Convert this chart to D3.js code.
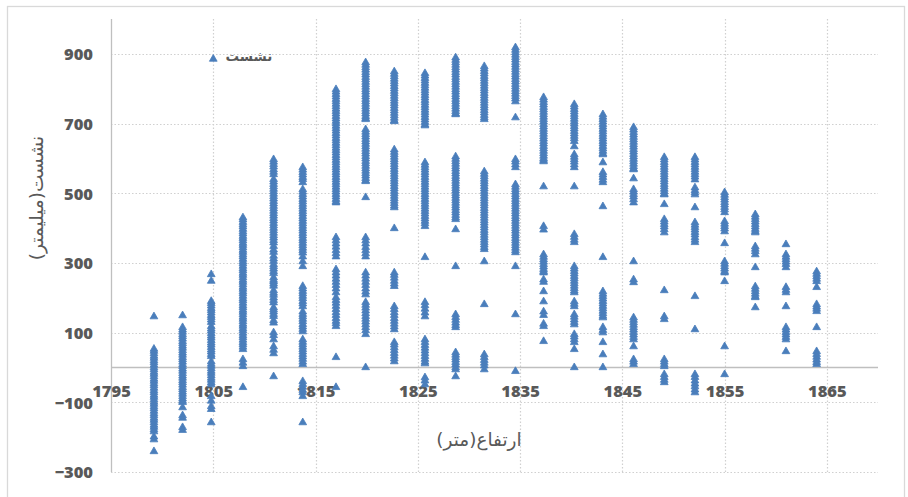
<!DOCTYPE html>
<html><head><meta charset="utf-8">
<script src="https://cdn.jsdelivr.net/npm/d3@7"></script>
<style>
html,body{margin:0;padding:0;background:#fff;}
svg{display:block;}
</style></head>
<body>
<svg id="chart" width="908" height="497"></svg>
<script>
// Elevation (x) of each measurement column
const elevation = [1799.2, 1802.0, 1804.8, 1807.9, 1810.9, 1813.75, 1817.0, 1819.9, 1822.7, 1825.7, 1828.7, 1831.5, 1834.55, 1837.3, 1840.3, 1843.1, 1846.1, 1849.1, 1852.1, 1855.0, 1858.0, 1861.0, 1864.0];
// Settlement values (mm) read for each column
const settlement = [
  [146, 53,47,40,33,27,20,14,7,0,-6,-13,-19,-26,-33,-39,-46,-52,-59,-66,-72,-79,-85,-92,-99,-105,-112,-118,-125,-132,-138,-145,-151,-158,-165,-171,-178,-184, -199,-207,-241],
  [149, 115,108,102,95,89,82,75,69,62,56,49,42,36,29,23,16,9,3,-4,-10,-17,-24,-30,-37,-43,-50,-57,-63,-70,-76,-83,-90,-96,-100, -115,-138,-145,-172,-180],
  [267,248, 190,184,177,170,164,157,150,144,137,130, 118,111,105,98,91,85,78,71,65,58,51,45,38,32, 17,10,4,-3,-10,-16,-23,-30,-36,-43,-49, -83,-96,-112,-120,-158],
  [430,424,417,410,404,397,390,384,377,371,364,357,351,344,337,331,324,318,311,304,298,291,284,278,271,265,258,251,245,238,231,225,218,212,205,198,192,185,178,172,165,159,152,145,139,132,125,119,112,106,99,92,86,79,72,66,59,52, 23,13,3, -57],
  [597,590,583,576,568,561,554, 540,533,526,519,512,505,498,491,484,477,470,463,456,449,442,435,428,421,414,407,400,393,386,379,372,365,358,348, 338,331,320,312,305,296,290,283,276,270,258,251,246,240,234,221,214,208,200,193,186,172,166,160,153,147,135,128, 100,92,80, 60,50,40, -26],
  [574,567,560,553,546,540,531, 511,504,497,490,483,476,469,462,455,448,441,434,427,420,413,406,399,392,385,378,371,364,357,350,343,336,329, 318,304,290, 233,226,219,212,205,198,190,183,175, 160,153,146,139,132,124,117,110,103, 80,73,66,59,52,45,38,31,24,16,9, -40,-48,-56,-65,-72,-83, -158],
  [798,791,784,777,770,763,756,749,742,735,728,721,714,707,700,693,686,679,672,665,658,651,644,637,630,623,616,609,602,595,588,581,574,567,560,553,546,539,532,525,518,511,504,497,490,483,476,473, 373,364,355,346,336,327,318, 281,272,263,254,245,236,226,215, 201,193,185,176,167,158,150,141,133,126,118, 29, -57],
  [875,868,861,854,847,840,833,826,819,812,805,798,791,784,777,770,763,756,749,742,735,728,721,715,712, 683,676,669,662,655,648,641,634,627,620,613,606,599,592,585,578,571,564,557,550,543,536,534, 488, 373,364,355,345,336,327,318, 272,263,254,245,236,226,217,209, 187,179,171,163,155,147,139,131,123,115,106,95, 0],
  [849,842,835,828,821,814,807,800,793,786,779,772,765,758,751,744,737,730,723,716,709,706, 625,618,611,604,597,590,583,576,569,562,555,548,541,534,527,520,513,506,499,492,485,478,471,464,459, 399, 272,265,257,248,240,233, 175,167,158,150,141,133,125,117,109, 72,65,57,49,41,33,25,17],
  [844,837,830,823,816,809,802,795,788,781,774,767,760,753,746,739,732,725,718,711,704,697,694, 588,581,574,567,560,553,546,539,532,525,518,511,504,497,490,483,476,469,462,455,448,441,434,427,420,413,405, 316, 187,178,168,157,146, 80,72,64,56,48,40,32,24,16,11, -29,-38,-49],
  [889,882,875,868,861,854,847,840,833,826,819,812,805,798,791,784,777,770,763,756,749,742,735,728,726, 605,598,591,584,577,570,563,556,549,542,535,528,521,514,507,500,493,486,479,472,465,458,451,444,437,430,425, 396, 290, 152,144,136,128,121,115, 43,36,29,22,15,8,0,-6, -26],
  [864,857,850,843,836,829,822,815,808,801,794,787,780,773,766,759,752,745,738,731,724,717,712, 562,555,548,541,534,527,520,513,506,499,492,485,478,471,464,457,450,443,436,429,422,415,408,401,394,387,380,373,366,359,352,345,339, 304, 181, 37,29,21,13,5,-6],
  [918,911,904,897,890,883,876,869,862,855,848,841,834,827,820,813,806,799,792,785,778,771,763, 717, 597,590,582,574, 525,518,511,504,497,490,483,476,469,462,455,448,441,434,427,420,413,406,399,392,385,378,371,364,357,350,343,336,330, 290, 152, -11],
  [775,768,761,754,747,740,733,726,719,712,705,698,691,684,677,670,663,656,649,642,635,628,621,614,607,600,595,591, 519, 405,395, 324,317,310,303,296,289,282,276,272, 252,245,218,189,160,150,125,118, 75],
  [755,748,741,734,727,720,713,706,699,692,685,678,671,664,657,649, 634, 611,604,597,590,582,574, 519, 382,374,366,359, 290,283,276,269,262,255,248,241,234,227,220,215, 189,182,175, 152,145,137,130,123, 95,88,80,72, 52, 0],
  [726,719,712,705,698,691,684,677,670,663,656,649,642,635,628,621,614,611, 588, 560,553,546,538,531, 462, 316, 218,211,204,197,190,183,176,169,162,155,148,143, 115,107,100, 72, 37, 0],
  [689,682,675,668,661,654,647,640,633,626,619,612,605,598,591,584,577,570,568, 542, 511,504,497,490,482,473, 304, 252,244, 143,136,129,122,115,108,101,94,87,80, 60, 23,16,9],
  [603,596,589,582,575,568,561,554,547,540,533,526,519,512,505,498,496, 468, 425,418,411,404,396,387, 221, 146,138, 23,16,9,3, -20,-28,-36,-43],
  [603,596,589,582,575,568,561,554,547,539, 516,508,502,496, 459, 416,409,402,395,388,381,373,366,359, 204, 109, -20,-28,-38,-47,-55,-64,-72],
  [502,495,488,481,474,467,460,453,445, 419,412,405,398,390, 356, 304,297,290,283,276,272, 247, 60, -20],
  [439,432,425,418,411,404,397,391,387, 347,340,333,324, 287, 232,225,218,211,204,201, 172],
  [353, 324,317,310,303,296,287, 230,222,215, 175, 115,108,101,94,87,80, 46],
  [275,268,261,254,247, 230, 181,174,168,161, 115, 46,38,30,22,15,9]
];
const xTicks = [1795, 1805, 1815, 1825, 1835, 1845, 1855, 1865];
const yTicks = [-300, -100, 100, 300, 500, 700, 900];
const seriesName = "نشست";
const xTitle = "ارتفاع(متر)";
const yTitle = "نشست(میلیمتر)";

const points = [];
elevation.forEach((e, i) => settlement[i].forEach(v => points.push({x: e, y: v})));

const svg = d3.select("#chart");
const pLeft = 111, pRight = 878, pTop = 19, pBottom = 472;
const x = d3.scaleLinear().domain([1795, 1870]).range([pLeft, pRight]);
const y = d3.scaleLinear().domain([-300, 1000]).range([pBottom, pTop]);
const grey = "#595959";
const blue = "#4a7ebb";
const numFont = "'Open Sans', 'Liberation Sans', sans-serif";
const arFont = "'DejaVu Sans', sans-serif";

// outer border
svg.append("rect").attr("x", 7.5).attr("y", 6.5).attr("width", 897).attr("height", 500)
  .attr("fill", "#fff").attr("stroke", "#d9d9d9").attr("stroke-width", 1.3);

// horizontal gridlines
svg.append("g").selectAll("line").data(yTicks).join("line")
  .attr("x1", pLeft).attr("x2", pRight)
  .attr("y1", d => Math.round(y(d)) + 0.5).attr("y2", d => Math.round(y(d)) + 0.5)
  .attr("stroke", "#d0d0d0").attr("stroke-width", 1.2).attr("stroke-dasharray", "1.5,2");

// vertical gridlines
svg.append("g").selectAll("line").data(xTicks.slice(1)).join("line")
  .attr("x1", d => Math.round(x(d)) + 0.5).attr("x2", d => Math.round(x(d)) + 0.5)
  .attr("y1", pTop).attr("y2", pBottom)
  .attr("stroke", "#d0d0d0").attr("stroke-width", 1.2).attr("stroke-dasharray", "1.5,2");

// axes lines
svg.append("line").attr("x1", pLeft + 0.5).attr("x2", pLeft + 0.5).attr("y1", pTop).attr("y2", pBottom)
  .attr("stroke", "#bfbfbf").attr("stroke-width", 1.3);
svg.append("line").attr("x1", pLeft).attr("x2", pRight).attr("y1", y(0)).attr("y2", y(0))
  .attr("stroke", "#bfbfbf").attr("stroke-width", 1.6);

// y tick labels
const yAxis = d3.axisLeft(y).tickValues(yTicks).tickSize(0).tickPadding(18);
const gy = svg.append("g").attr("transform", `translate(${pLeft},0)`).call(yAxis);
gy.select(".domain").remove();
gy.selectAll("text").attr("fill", grey).attr("font-family", numFont)
  .attr("font-weight", 800).attr("font-size", 16.5).attr("dy", "0.35em");

// x tick labels (axis crosses at y = 0)
const xAxis = d3.axisBottom(x).tickValues(xTicks).tickSize(0).tickPadding(18).tickFormat(d3.format("d"));
const gx = svg.append("g").attr("transform", `translate(0,${y(0)})`).call(xAxis);
gx.select(".domain").remove();
gx.selectAll("text").attr("fill", grey).attr("font-family", numFont)
  .attr("font-weight", 800).attr("font-size", 16.5);

// points
const tri = d3.symbol().type(d3.symbolTriangle).size(26);
svg.append("g").selectAll("path").data(points).join("path")
  .attr("d", tri)
  .attr("transform", d => `translate(${x(d.x)},${y(d.y)})`)
  .attr("fill", blue).attr("stroke", blue).attr("stroke-width", 0.8);

// legend
svg.append("path").attr("d", tri).attr("transform", `translate(${x(1805)},59)`)
  .attr("fill", blue).attr("stroke", blue).attr("stroke-width", 0.8);
svg.append("text").attr("x", 249).attr("y", 61).attr("text-anchor", "middle")
  .attr("font-family", arFont).attr("font-weight", 700).attr("font-size", 13.5).attr("fill", grey)
  .text(seriesName);

// axis titles
svg.append("text").attr("x", 479).attr("y", 446).attr("text-anchor", "middle")
  .attr("font-family", arFont).attr("font-size", 18.5).attr("fill", grey).text(xTitle);
svg.append("text").attr("transform", "translate(43,198) rotate(-90)").attr("text-anchor", "middle")
  .attr("font-family", arFont).attr("font-size", 18.5).attr("fill", grey).text(yTitle);
</script>
</body></html>
